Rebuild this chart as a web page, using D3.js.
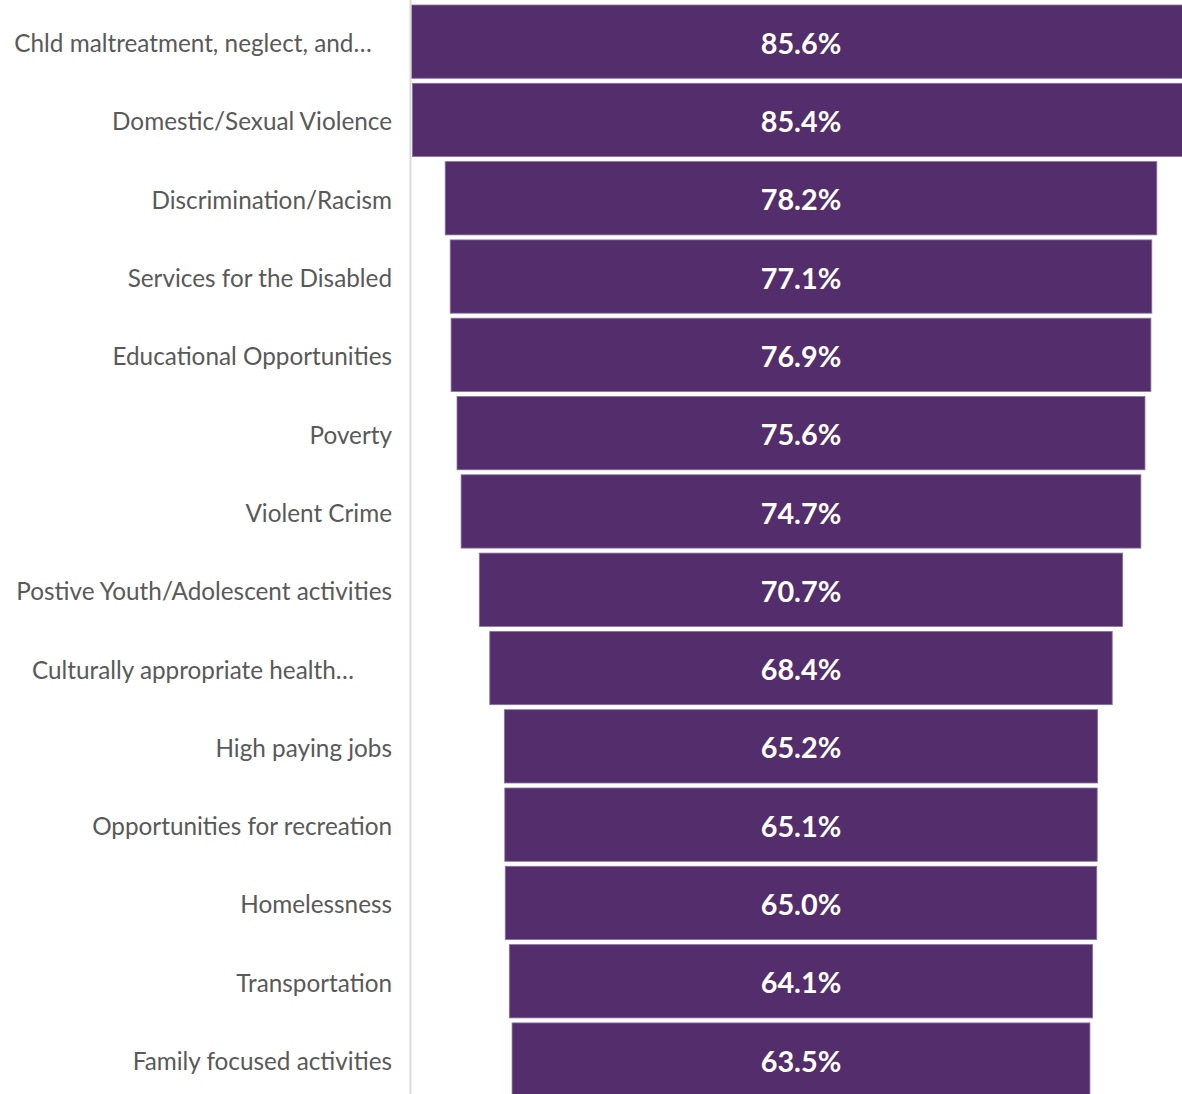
<!DOCTYPE html>
<html>
<head>
<meta charset="utf-8">
<script src="https://cdn.jsdelivr.net/npm/d3@7"></script>
<style>
  html, body { margin: 0; padding: 0; background: #fff; overflow: hidden; }
  svg { display: block; }
</style>
</head>
<body>
<svg id="chart" width="1182" height="1094"></svg>
<script>
var categories = [
    "Chld maltreatment, neglect, and\u2026",
    "Domestic/Sexual Violence",
    "Discrimination/Racism",
    "Services for the Disabled",
    "Educational Opportunities",
    "Poverty",
    "Violent Crime",
    "Postive Youth/Adolescent activities",
    "Culturally appropriate health\u2026",
    "High paying jobs",
    "Opportunities for recreation",
    "Homelessness",
    "Transportation",
    "Family focused activities"
];
var values = [85.6, 85.4, 78.2, 77.1, 76.9, 75.6, 74.7, 70.7, 68.4, 65.2, 65.1, 65.0, 64.1, 63.5];

var svg = d3.select("#chart");
var width = 1182, height = 1094;
var axisX = 410.5;
//Funnel centre line
var centerX = 801;

//Bar width scale, 9.1px per percent point
var w = d3.scaleLinear().domain([0, 100]).range([0, 910]);
var y = d3.scaleBand().domain(categories).range([5, 1096.2]).paddingInner(0.064).paddingOuter(0);

var data = categories.map(function(c, i) { return { name: c, value: values[i] }; });

//Bars
svg.append("g").selectAll("rect").data(data).enter().append("rect")
    .attr("x", function(d) { return centerX - w(d.value) / 2; })
    .attr("y", function(d) { return y(d.name); })
    .attr("width", function(d) { return w(d.value); })
    .attr("height", y.bandwidth())
    .attr("fill", "#532d6c")
    .attr("stroke", "#8a73a0")
    .attr("stroke-width", 0.8);

//Vertical axis line
svg.append("line")
    .attr("x1", axisX).attr("x2", axisX)
    .attr("y1", 0).attr("y2", height)
    .attr("stroke", "#d9d9d9").attr("stroke-width", 2);

//Category labels (truncated ones are centred in the label box, like Excel does)
svg.append("g").selectAll("text").data(data).enter().append("text")
    .attr("x", function(d) { return d.name.slice(-1) === "\u2026" ? 193 : 392; })
    .attr("y", function(d) { return y(d.name) + y.bandwidth() / 2 + 2; })
    .attr("dy", "0.35em")
    .attr("text-anchor", function(d) { return d.name.slice(-1) === "\u2026" ? "middle" : "end"; })
    .attr("fill", "#595959")
    .style("font-family", "Lato, 'Open Sans', sans-serif")
    .style("font-size", "24.3px")
    .text(function(d) { return d.name; });

//Value labels
svg.append("g").selectAll("text").data(data).enter().append("text")
    .attr("x", centerX)
    .attr("y", function(d) { return y(d.name) + y.bandwidth() / 2 + 2; })
    .attr("dy", "0.35em")
    .attr("text-anchor", "middle")
    .attr("fill", "#ffffff")
    .style("font-family", "Lato, 'Open Sans', sans-serif")
    .style("font-weight", "bold")
    .style("font-size", "28.8px")
    .text(function(d) { return d.value.toFixed(1) + "%"; });
</script>
</body>
</html>
